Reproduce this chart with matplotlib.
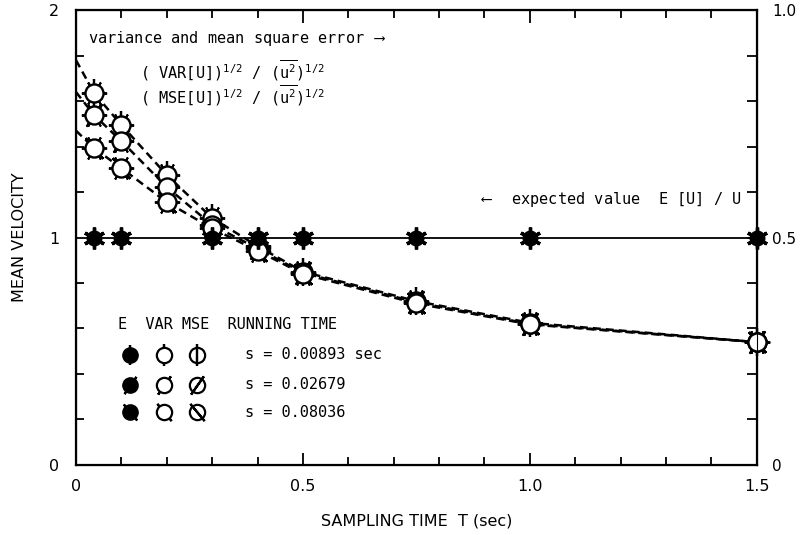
import matplotlib
matplotlib.use('Agg')
import matplotlib.pyplot as plt
from matplotlib.ticker import MultipleLocator, FixedLocator

# ---- data (left axis scale: MEAN VELOCITY) ----
T_E = [0.04, 0.1, 0.3, 0.4, 0.5, 0.75, 1.0, 1.5]
E_vals = [1.0, 1.0, 1.0, 1.0, 1.0, 1.0, 1.0, 1.0]
T_pts = [0.04, 0.1, 0.2, 0.3, 0.4, 0.5, 0.75, 1.0, 1.5]
var_s1 = [1.635, 1.495, 1.275, 1.086, 0.962, 0.850, 0.720, 0.625, 0.540]
var_s2 = [1.538, 1.424, 1.222, 1.055, 0.952, 0.845, 0.715, 0.620, 0.540]
var_s3 = [1.393, 1.305, 1.156, 1.040, 0.942, 0.840, 0.710, 0.618, 0.540]
curve_T = [0.0, 0.04, 0.1, 0.2, 0.3, 0.4, 0.5, 0.75, 1.0, 1.5]
curve_s1 = [1.78, 1.635, 1.495, 1.275, 1.086, 0.962, 0.850, 0.720, 0.625, 0.540]
curve_s2 = [1.64, 1.538, 1.424, 1.222, 1.055, 0.952, 0.845, 0.715, 0.620, 0.540]
curve_s3 = [1.47, 1.393, 1.305, 1.156, 1.040, 0.942, 0.840, 0.710, 0.618, 0.540]
s_labels = ['s = 0.00893 sec', 's = 0.02679', 's = 0.08036']
spike_angles = [0, -35, 40]

x_ticks = [0, 0.5, 1.0, 1.5]
x_ticklabels = ['0', '0.5', '1.0', '1.5']
yl_ticks = [0, 1, 2]
yl_ticklabels = ['0', '1', '2']
yr_ticks = [0, 0.5, 1.0]
yr_ticklabels = ['0', '0.5', '1.0']

MONO = 'DejaVu Sans Mono'
plt.rcParams['mathtext.fontset'] = 'custom'
plt.rcParams['mathtext.rm'] = MONO
plt.rcParams['mathtext.it'] = MONO
plt.rcParams['mathtext.tt'] = MONO

fig = plt.figure(figsize=(8, 5.35), dpi=100)
ax = fig.add_axes([0.095, 0.131, 0.851, 0.85])
ax.set_xlim(0, 1.5)
ax.set_ylim(0, 2)

def e_marker(x, y, size=10):
    ax.plot(x, y, ls='none', marker='o', ms=size, mfc='black', mec='black', zorder=5, clip_on=False)
    ax.plot(x, y, ls='none', marker=(6, 2, 0), ms=size * 1.5, mec='black', mew=2.4, zorder=5, clip_on=False)

def open_marker(x, y, angle=0, size=13):
    ax.plot(x, y, ls='none', marker=(2, 2, angle), ms=size * 1.5, mec='black', mew=1.6,
            zorder=3, clip_on=False)
    ax.plot(x, y, ls='none', marker=(6, 2, 30), ms=size * 1.4, mec='black', mew=1.4,
            zorder=3, clip_on=False)
    ax.plot(x, y, ls='none', marker='o', ms=size, mfc='white', mec='black', mew=1.7, zorder=4,
            clip_on=False)

# expected value line
ax.plot(T_E, E_vals, color='black', lw=1.3, zorder=2)
e_marker(T_E, E_vals, size=10.5)

# variance / mse curves
for cT, cv in [(curve_T, curve_s1), (curve_T, curve_s2), (curve_T, curve_s3)]:
    ax.plot(cT, cv, color='black', lw=1.8, ls=(0, (3.2, 2.0)), zorder=2)
for vals, ang in [(var_s1, spike_angles[0]), (var_s2, spike_angles[1]), (var_s3, spike_angles[2])]:
    open_marker(T_pts, vals, angle=ang, size=13)

# ticks
ax.xaxis.set_major_locator(FixedLocator(x_ticks))
ax.set_xticklabels(x_ticklabels)
ax.xaxis.set_minor_locator(MultipleLocator(0.1))
ax.yaxis.set_major_locator(FixedLocator(yl_ticks))
ax.set_yticklabels(yl_ticklabels)
ax.yaxis.set_minor_locator(MultipleLocator(0.2))
ax.tick_params(which='both', direction='in', top=True, right=False, width=1.3,
               labelsize=11.5, pad=10)
ax.tick_params(which='major', length=9)
ax.tick_params(which='minor', length=6)
ax.tick_params(axis='y', pad=12)
for sp in ax.spines.values():
    sp.set_linewidth(1.6)

axr = ax.twinx()
axr.set_ylim(0, 1)
axr.yaxis.set_major_locator(FixedLocator(yr_ticks))
axr.set_yticklabels(yr_ticklabels)
axr.yaxis.set_minor_locator(MultipleLocator(0.1))
axr.tick_params(which='both', direction='in', width=1.3, labelsize=11, pad=11)
axr.tick_params(which='major', length=7)
axr.tick_params(which='minor', length=7)

ax.set_xlabel('SAMPLING TIME  T (sec)', fontsize=11.5, labelpad=14)
ax.set_ylabel('MEAN VELOCITY', fontsize=11.5, labelpad=16)

# annotations
tk = dict(family=MONO, fontsize=11, transform=ax.transAxes, va='center', ha='left')
ax.text(0.017, 0.937, 'variance and mean square error $\\longrightarrow$', **tk)
ax.text(0.094, 0.866, '( VAR[U])$^{1/2}$ / ($\\overline{\\mathrm{u}^{2}}$)$^{1/2}$', **tk)
ax.text(0.094, 0.811, '( MSE[U])$^{1/2}$ / ($\\overline{\\mathrm{u}^{2}}$)$^{1/2}$', **tk)
ax.text(0.594, 0.583, '$\\longleftarrow$  expected value  E [U] / U', **tk)

# key
ax.text(0.062, 0.308, 'E  VAR MSE  RUNNING TIME', **tk)
key_y = [0.242, 0.176, 0.116]
for i, yk in enumerate(key_y):
    kw = dict(transform=ax.transAxes, clip_on=False)
    ax.plot(0.079, yk, ls='none', marker='o', ms=11, mfc='black', mec='black', **kw)
    ax.plot(0.079, yk, ls='none', marker=(2, 2, spike_angles[i]), ms=15, mec='black', mew=1.6, **kw)
    ax.plot(0.129, yk, ls='none', marker=(2, 2, spike_angles[i]), ms=16, mec='black', mew=1.6, zorder=3, **kw)
    ax.plot(0.129, yk, ls='none', marker='o', ms=11, mfc='white', mec='black', mew=1.6, zorder=4, **kw)
    ax.plot(0.178, yk, ls='none', marker='o', ms=11, mfc='white', mec='black', mew=1.6, zorder=4, **kw)
    ax.plot(0.178, yk, ls='none', marker=(2, 2, spike_angles[i]), ms=16, mec='black', mew=1.6, zorder=5, **kw)
    ax.text(0.248, yk, s_labels[i], **tk)

fig.savefig('out.png', dpi=100)
